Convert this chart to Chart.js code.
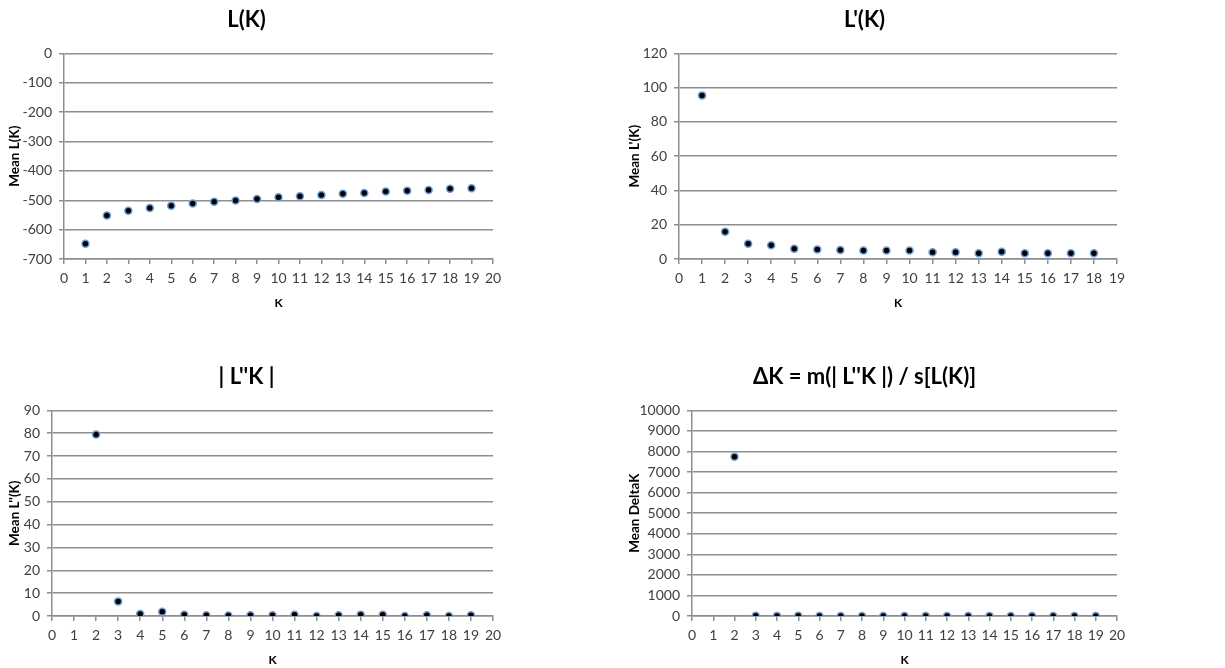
<!DOCTYPE html>
<html>
<head>
<meta charset="utf-8">
<script src="https://cdn.jsdelivr.net/npm/chart.js@4/dist/chart.umd.min.js"></script>
<style>
  html, body { margin: 0; padding: 0; background: #ffffff; }
  body { width: 1225px; height: 668px; position: relative; overflow: hidden; }
  canvas { position: absolute; }
</style>
</head>
<body>
<canvas id="c1" width="612" height="330" style="left:0;top:0"></canvas>
<canvas id="c2" width="613" height="330" style="left:612px;top:0"></canvas>
<canvas id="c3" width="612" height="338" style="left:0;top:330px"></canvas>
<canvas id="c4" width="613" height="338" style="left:612px;top:330px"></canvas>
<script>
// ---- Data ----
const kLK = [1, 2, 3, 4, 5, 6, 7, 8, 9, 10, 11, 12, 13, 14, 15, 16, 17, 18, 19];
const meanLK = [-648, -552, -536, -526, -519, -511, -505, -501, -496, -490, -486, -482, -478, -475, -470, -468, -465, -461, -459];

const kLprime = [1, 2, 3, 4, 5, 6, 7, 8, 9, 10, 11, 12, 13, 14, 15, 16, 17, 18];
const meanLprime = [95.5, 15.9, 8.9, 8.0, 6.0, 5.6, 5.2, 4.9, 5.0, 4.9, 3.9, 3.9, 3.3, 4.3, 3.3, 3.3, 3.3, 3.3];

const kL2 = [2, 3, 4, 5, 6, 7, 8, 9, 10, 11, 12, 13, 14, 15, 16, 17, 18, 19];
const meanL2 = [79.4, 6.4, 0.9, 1.9, 0.5, 0.3, 0.2, 0.3, 0.3, 0.5, 0.0, 0.3, 0.6, 0.5, 0.0, 0.3, 0.0, 0.3];

const kDelta = [2, 3, 4, 5, 6, 7, 8, 9, 10, 11, 12, 13, 14, 15, 16, 17, 18, 19];
const meanDelta = [7750, 8, 6, 10, 5, 4, 3, 4, 4, 6, 2, 4, 6, 5, 2, 4, 2, 3];

const titles = ["L(K)", "L'(K)", "| L''K |", "\u0394K = m(| L''K |) / s[L(K)]"];
const yTitles = ["Mean L(K)", "Mean L'(K)", "Mean L''(K)", "Mean DeltaK"];
const xTitle = "K";

// ---- Styling ----
const FONT = "Lato, 'Liberation Sans', sans-serif";
const GRID = '#8e8e8e';
const TICK_COLOR = '#404040';

function makeChart(id, xs, ys, cfg) {
  const data = xs.map((x, i) => ({ x: x, y: ys[i] }));
  return new Chart(document.getElementById(id), {
    type: 'scatter',
    data: {
      datasets: [{
        data: data,
        pointRadius: 3.5,
        pointHoverRadius: 3.5,
        pointBackgroundColor: '#000000',
        pointBorderColor: '#6f9bd4',
        pointBorderWidth: 1.5,
        showLine: false
      }]
    },
    options: {
      responsive: false,
      animation: false,
      devicePixelRatio: 1,
      layout: { padding: { left: 0, right: cfg.padRight, top: 0, bottom: 0 } },
      plugins: {
        legend: { display: false },
        tooltip: { enabled: false },
        title: {
          display: true,
          text: cfg.title,
          color: '#000000',
          font: { family: FONT, size: 22, weight: 'bold', lineHeight: 1.2 },
          padding: { top: cfg.titleTop, bottom: cfg.titleBottom }
        }
      },
      scales: {
        x: {
          type: 'linear',
          min: 0,
          max: cfg.xMax,
          afterFit: s => { s.height = cfg.xHeight; },
          ticks: {
            stepSize: 1,
            color: TICK_COLOR,
            font: { family: FONT, size: 14 },
            padding: 6,
            maxRotation: 0,
            autoSkip: false,
            callback: v => String(v)
          },
          grid: {
            display: true,
            drawOnChartArea: false,
            drawTicks: true,
            tickLength: 5,
            color: GRID,
            lineWidth: 1.5
          },
          border: { display: true, color: GRID, width: 1.5 },
          title: {
            display: true,
            text: xTitle,
            color: '#000000',
            font: { family: FONT, size: 12, weight: 'bold', lineHeight: 1.2 },
            padding: { top: 0, bottom: cfg.xTitlePad }
          }
        },
        y: {
          type: 'linear',
          min: cfg.yMin,
          max: cfg.yMax,
          afterFit: s => { s.width = cfg.yWidth; },
          ticks: {
            stepSize: cfg.yStep,
            color: TICK_COLOR,
            font: { family: FONT, size: 14 },
            padding: 7,
            callback: v => String(v)
          },
          grid: {
            display: true,
            drawOnChartArea: true,
            drawTicks: true,
            tickLength: 5,
            color: GRID,
            lineWidth: 1.5
          },
          border: { display: true, color: GRID, width: 1.5 },
          title: {
            display: true,
            text: cfg.yTitle,
            color: '#000000',
            font: { family: FONT, size: 13.5, weight: 'bold', lineHeight: 1.2 },
            padding: { top: cfg.yTitlePad, bottom: 0 }
          }
        }
      }
    }
  });
}

makeChart('c1', kLK, meanLK, {
  title: titles[0], yTitle: yTitles[0],
  xMax: 20, yMin: -700, yMax: 0, yStep: 100,
  yWidth: 64, xHeight: 71, padRight: 119,
  titleTop: 7, titleBottom: 20, xTitlePad: 20, yTitlePad: 7
});
makeChart('c2', kLprime, meanLprime, {
  title: titles[1], yTitle: yTitles[1],
  xMax: 19, yMin: 0, yMax: 120, yStep: 20,
  yWidth: 67, xHeight: 71, padRight: 108,
  titleTop: 7, titleBottom: 20, xTitlePad: 20, yTitlePad: 15
});
makeChart('c3', kL2, meanL2, {
  title: titles[2], yTitle: yTitles[2],
  xMax: 20, yMin: 0, yMax: 90, yStep: 10,
  yWidth: 52, xHeight: 52, padRight: 119,
  titleTop: 34, titleBottom: 20, xTitlePad: 1, yTitlePad: 7
});
makeChart('c4', kDelta, meanDelta, {
  title: titles[3], yTitle: yTitles[3],
  xMax: 20, yMin: 0, yMax: 10000, yStep: 1000,
  yWidth: 80, xHeight: 52, padRight: 108,
  titleTop: 34, titleBottom: 20, xTitlePad: 1, yTitlePad: 15
});
</script>
</body>
</html>
